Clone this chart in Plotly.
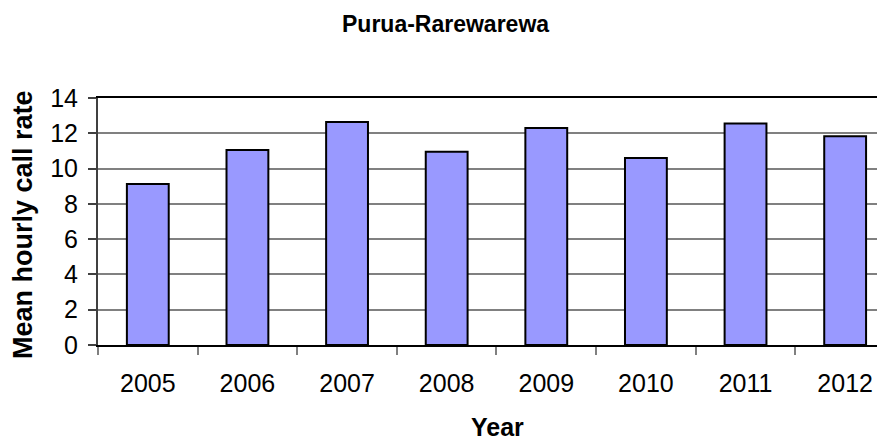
import plotly.graph_objects as go

years = ["2005", "2006", "2007", "2008", "2009", "2010", "2011", "2012"]
call_rate = [9.13, 11.05, 12.64, 10.96, 12.30, 10.60, 12.55, 11.83]
y_ticks = [0, 2, 4, 6, 8, 10, 12, 14]

FONT = "Liberation Sans, Arial, sans-serif"

# page body has an 8px default margin, so figure coords = screen coords - 8
PL, PR, PT, PB = 90, 877, 90, 337
PW, PH = PR - PL, PB - PT

fig = go.Figure(
    go.Bar(
        x=years,
        y=call_rate,
        width=0.42,
        marker=dict(color="#9999FF", line=dict(color="#000000", width=2)),
    )
)

fig.update_layout(
    width=885,
    height=441,
    margin=dict(l=PL, r=885 - PR, t=PT, b=441 - PB),
    paper_bgcolor="white",
    plot_bgcolor="white",
    showlegend=False,
    font=dict(family=FONT, color="black"),
    xaxis=dict(
        type="category",
        range=[-0.5, 7.4],
        tickson="boundaries",
        ticks="outside",
        ticklen=8,
        tickwidth=1.5,
        tickcolor="#808080",
        showline=True,
        linecolor="#000000",
        linewidth=1.5,
        mirror=True,
        showgrid=False,
        tickfont=dict(size=25, family=FONT),
        ticklabelstandoff=15,
    ),
    yaxis=dict(
        range=[0, 14],
        tickvals=y_ticks,
        ticks="outside",
        ticklen=8,
        tickwidth=1.5,
        tickcolor="#404040",
        showline=True,
        linecolor="#404040",
        linewidth=2,
        showgrid=True,
        gridcolor="#808080",
        gridwidth=1.5,
        zeroline=False,
        tickfont=dict(size=25, family=FONT),
        ticklabelstandoff=5,
    ),
    annotations=[
        dict(text="<b>Purua-Rarewarewa</b>", x=(437 - PL) / PW, y=(PB - 16) / PH,
             xref="paper", yref="paper", showarrow=False,
             font=dict(size=23, family=FONT), xanchor="center", yanchor="middle"),
        dict(text="<b>Year</b>", x=(489 - PL) / PW, y=(PB - 419) / PH,
             xref="paper", yref="paper", showarrow=False,
             font=dict(size=25, family=FONT), xanchor="center", yanchor="middle"),
        dict(text="<b>Mean hourly call rate</b>", x=(15 - PL) / PW, y=(PB - 217) / PH,
             xref="paper", yref="paper", textangle=-90, showarrow=False,
             font=dict(size=27, family=FONT), xanchor="center", yanchor="middle"),
    ],
)

fig.write_html("out.html")
